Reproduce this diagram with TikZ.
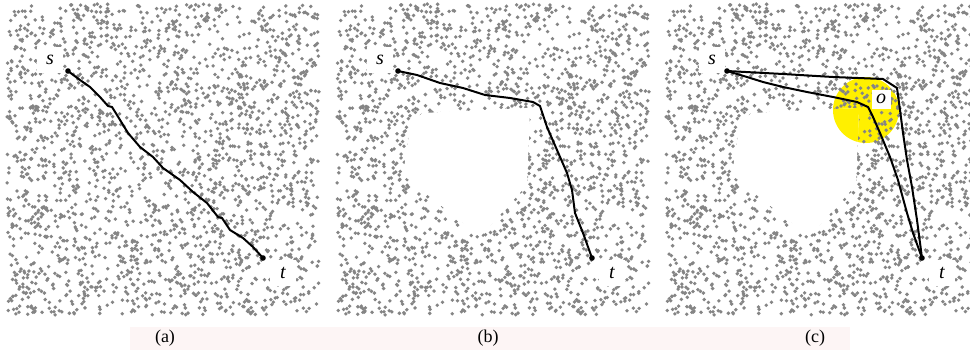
\documentclass[tikz,border=0pt]{standalone}
\usepackage{fontspec}
\setmainfont{Liberation Serif}
\definecolor{dotgray}{HTML}{858585}
\definecolor{capbg}{HTML}{FDF5F5}
\definecolor{hilite}{HTML}{FFF000}
\newcommand\dotfield[1]{%
  \foreach \k in {1,...,10}{%
    \pgfmathsetseed{4711+37*\k}%
    \fill[dotgray] \foreach \i in {1,...,230}{ (#1+rnd*312, 4+rnd*311) circle (1.9) };%
  }%
}
\begin{document}
\begin{tikzpicture}[x=1pt,y=-1pt,
  lbl/.style={fill=white,inner sep=0pt,minimum size=26pt,font=\fontsize{20}{20}\selectfont\itshape},
  olbl/.style={fill=white,inner sep=0pt,minimum size=19pt,font=\fontsize{20}{20}\selectfont\itshape},
  route/.style={line width=2pt,line join=round,line cap=round},
  endpt/.style={fill=black},
  captxt/.style={font=\fontsize{18}{18}\selectfont},
  hole/.style={fill=white}]
\useasboundingbox (0,0) rectangle (970,356);
\fill[white] (0,0) rectangle (970,356);
% caption strip
\fill[capbg] (130,327) rectangle (850,350);
\node[captxt] (capa) at (165,338) {(a)};
\node[captxt] (capb) at (488,338) {(b)};
\node[captxt] (capc) at (815,338) {(c)};

% ---------- panel (a)
\dotfield{7}
\node[lbl] (la) at (50,60) {s};
\node[lbl] (lta) at (283,273) {t};
\coordinate (sa) at (68,71);
\coordinate (ta) at (263,258);
\draw[route] (sa) -- (80,80) -- (90,87) -- (100,97) -- (108,106) -- (112,107) -- (117,115)
  -- (128,133) -- (140,147) -- (153,157) -- (163,168) -- (180,180) -- (193,192)
  -- (207,203) -- (218,217) -- (222,218) -- (230,230) -- (243,238) -- (253,247) -- (ta);
\fill[endpt] (sa) circle (2.8);
\fill[endpt] (ta) circle (2.8);

% ---------- panel (b)
\dotfield{337}
\fill[hole] (422,113) -- (530,108) -- (527,185) -- (480,237) -- (403,175) -- (410,128) -- cycle;
\node[lbl] (lb) at (380,60) {s};
\node[lbl] (ltb) at (612,273) {t};
\coordinate (sb) at (398,71);
\coordinate (tb) at (592,258);
\draw[route] (sb) -- (417,75) -- (440,83) -- (463,88) -- (485,95) -- (510,98) -- (533,102)
  -- (540,106) -- (547,127) -- (557,150) -- (567,173) -- (572,190) -- (575,213)
  -- (583,233) -- (tb);
\fill[endpt] (sb) circle (2.8);
\fill[endpt] (tb) circle (2.8);

% ---------- panel (c)
\fill[hilite] (866,110) circle (33);
\dotfield{666}
\fill[hole] (751,113) -- (859,108) -- (856,185) -- (809,237) -- (732,175) -- (739,128) -- cycle;
\begin{scope}
  \clip (751,113) -- (859,108) -- (856,185) -- (809,237) -- (732,175) -- (739,128) -- cycle;
  \fill[hilite] (866,110) circle (33);
\end{scope}
\node[lbl] (lc) at (712,60) {s};
\node[lbl] (ltc) at (942,273) {t};
\node[olbl] (loc) at (881,99) {o};
\coordinate (sc) at (727,71);
\coordinate (tc) at (922,258);
\draw[route] (sc) -- (783,74) -- (833,77) -- (883,79) -- (897,88) -- (900,110) -- (903,133)
  -- (907,160) -- (912,187) -- (917,220) -- (tc);
\draw[route] (sc) -- (747,77) -- (763,82) -- (783,87) -- (807,92) -- (833,97) -- (857,102)
  -- (868,107) -- (873,117) -- (880,133) -- (890,157) -- (898,180) -- (907,213)
  -- (913,233) -- (tc);
\fill[endpt] (sc) circle (2.8);
\fill[endpt] (tc) circle (2.8);
\end{tikzpicture}
\end{document}
